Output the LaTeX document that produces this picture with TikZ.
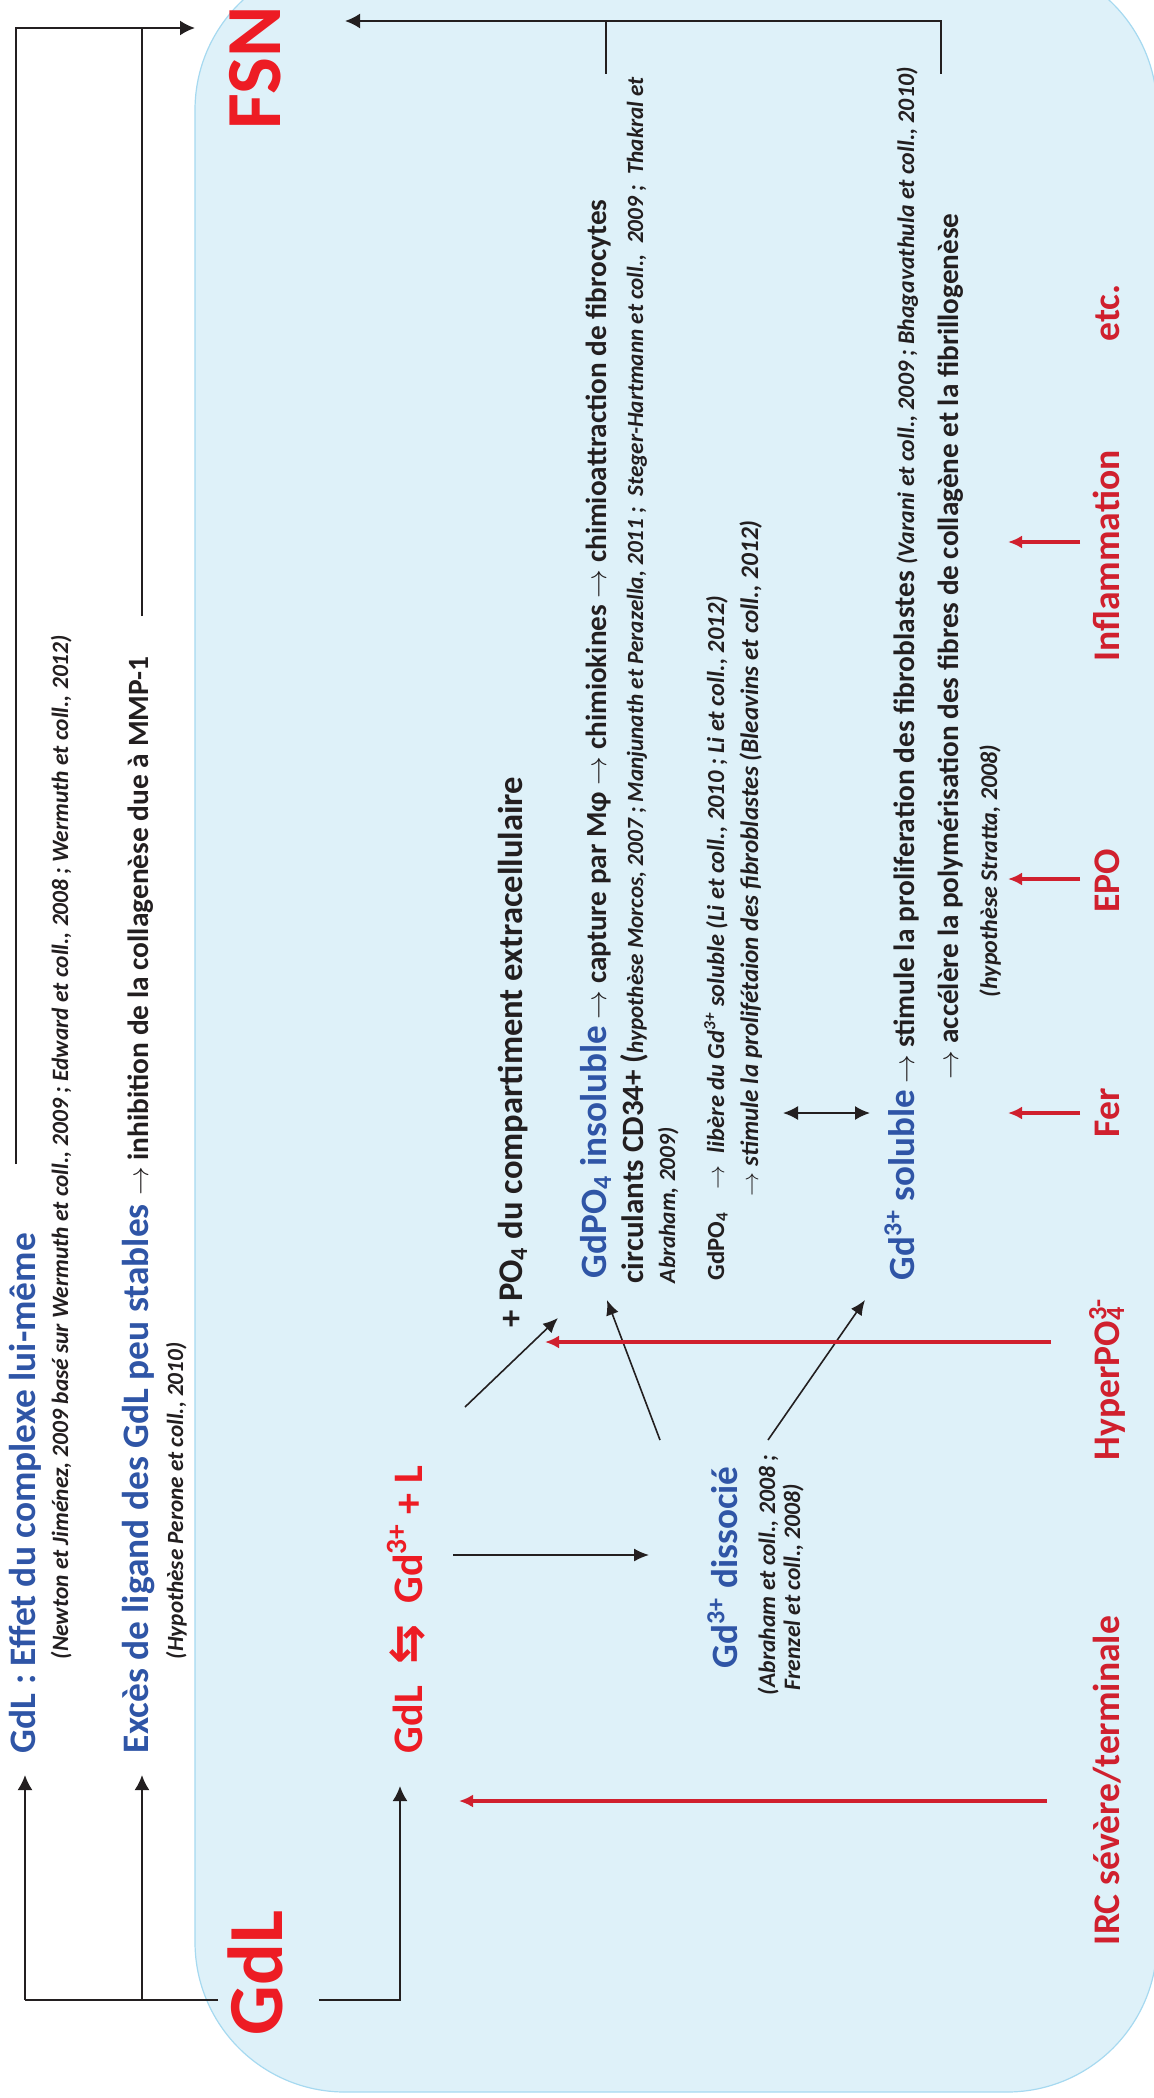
\documentclass[tikz,border=0pt]{standalone}
\usepackage{fontspec}
\usepackage{amssymb}
\setmainfont{Carlito}
\newfontfamily\dvs{DejaVu Sans}
\usetikzlibrary{arrows.meta}
\definecolor{boxfill}{HTML}{DEF1F9}
\definecolor{boxline}{HTML}{A6D9F0}
\definecolor{gdblue}{HTML}{2F55A6}
\definecolor{gdred}{HTML}{ED1C24}
\definecolor{dred}{HTML}{D0202E}
\definecolor{lblack}{HTML}{231F20}
\newcommand\fs[1]{\fontsize{#1}{#1}\selectfont}
\newcommand\ra{$\rightarrow$}
\begin{document}
\begin{tikzpicture}[x=0.5pt,y=-0.5pt,
  txt/.style={rotate=90, anchor=base west, inner sep=0pt, outer sep=0pt, text=lblack},
  ctxt/.style={rotate=90, anchor=base, inner sep=0pt, outer sep=0pt},
  ln/.style={line width=1pt, draw=lblack},
  thin/.style={line width=0.8pt, draw=lblack, -{Latex[length=7.5pt,width=6.5pt]}},
  arr/.style={ln, -{Latex[length=7.5pt,width=7.5pt]}},
  redarr/.style={line width=2pt, draw=dred, -{Latex[length=7pt,width=6.5pt]}}]
\useasboundingbox (0,0) rectangle (1154,2098);
\clip (0,0) rectangle (1154,2098);
% background box
\draw[fill=boxfill, draw=boxline, line width=0.6pt, rounded corners=75pt] (195,-40) rectangle (1157,2092);

% left column texts
\node[txt, text=gdblue, font=\bfseries\fs{18.7}] (t1) at (35,1753) {GdL : Effet du complexe lui-même};
\node[txt, font=\bfseries\itshape\fs{11.7}] (r1) at (68,1659) {(Newton et Jiménez, 2009 basé sur Wermuth et coll., 2009 ; Edward et coll., 2008 ; Wermuth et coll., 2012)};
\node[txt, font=\bfseries\fs{18.7}] (t2) at (148,1753) {{\color{gdblue}Excès de ligand des GdL peu stables} {\fs{14.7}\ra\ inhibition de la collagenèse due à MMP-1}};
\node[txt, font=\bfseries\itshape\fs{11.6}] (r2) at (183,1659) {(Hypothèse Perone et coll., 2010)};

% big labels
\node[txt, text=gdred, font=\bfseries\fs{39}] (gdl) at (282,2035) {GdL};
\node[txt, text=gdred, font=\bfseries\fs{39}] (fsn) at (280,129) {FSN};

% equation
\node[txt, text=gdred, font=\bfseries\fs{21}] (eq) at (422,1753) {GdL\hspace{0.5em}{\dvs\bfseries\fs{24}⇆}\hspace{0.5em}Gd\textsuperscript{3+} + L};

% dissociated
\node[txt, text=gdblue, font=\bfseries\fs{18.6}] (diss) at (737,1668) {Gd\textsuperscript{3+} dissocié};
\node[txt, font=\bfseries\itshape\fs{11.8}] (r3a) at (775,1695) {(Abraham et coll., 2008 ;};
\node[txt, font=\bfseries\itshape\fs{11.8}] (r3b) at (800,1690) {Frenzel et coll., 2008)};

% PO4 column
\node[txt, font=\bfseries\fs{17.3}] (po4) at (522,1327) {+ PO\textsubscript{4} du compartiment extracellulaire};
\node[txt, font=\bfseries\fs{14.6}] (ins) at (606,1278) {{\color{gdblue}\fs{18.6}GdPO\textsubscript{4} insoluble} \ra\ capture par Mφ \ra\ chimiokines \ra\ chimioattraction de fibrocytes};
\node[txt, font=\bfseries\fs{15.5}] (circ) at (643,1283) {circulants CD34+ ({\itshape\fs{11.6}hypothèse Morcos, 2007 ; Manjunath et Perazella, 2011 ;\ \ Steger-Hartmann et coll.,\ \ 2009 ;\ \ Thakral et}};
\node[txt, font=\bfseries\itshape\fs{11.6}] (abr) at (675,1283) {Abraham, 2009)};
\node[txt, font=\bfseries\fs{12.3}] (lib) at (724,1280) {GdPO\textsubscript{4}\hspace{0.9em}\ra\hspace{0.5em}{\itshape\fs{12.2}libère du Gd\textsuperscript{3+}\ soluble (Li et coll., 2010 ; Li et coll., 2012)}};
\node[txt, font=\bfseries\itshape\fs{12.6}] (stim) at (758,1196) {\ra\ stimule la prolifétaion des fibroblastes (Bleavins et coll., 2012)};

% soluble column
\node[txt, font=\bfseries\fs{14.7}] (sol) at (914,1280) {{\color{gdblue}\fs{18.5}Gd\textsuperscript{3+} soluble} \ra\ stimule la proliferation des fibroblastes {\itshape\fs{11.9}(Varani et coll., 2009 ; Bhagavathula et coll., 2010)}};
\node[txt, font=\bfseries\fs{14.6}] (acc) at (958,1079) {\ra\ accélère la polymérisation des fibres de collagène et la fibrillogenèse};
\node[txt, font=\bfseries\itshape\fs{12}] (strat) at (997,997) {(hypothèse Stratta, 2008)};

% red factors
\node[txt, text=dred, font=\bfseries\fs{18.8}] (irc) at (1119,1945) {IRC sévère/terminale};
\node[txt, text=dred, font=\bfseries\fs{18.8}] (hyp) at (1119,1460) {HyperPO\rlap{\textsubscript{4}}\textsuperscript{3-}};
\node[ctxt, text=dred, font=\bfseries\fs{18.8}] (fer) at (1119,1113) {Fer};
\node[ctxt, text=dred, font=\bfseries\fs{18.8}] (epo) at (1119,881) {EPO};
\node[ctxt, text=dred, font=\bfseries\fs{18.8}] (infl) at (1119,556) {Inflammation};
\node[ctxt, text=dred, font=\bfseries\fs{18.8}] (etc) at (1119,313) {etc.};

% coordinates for connectors
\coordinate (gdlW) at (218,2000);
\coordinate (gdlE) at (319,2000);
\coordinate (L0) at (25,2000);
\coordinate (L1) at (142,2000);
\coordinate (t1in) at (25,1775);
\coordinate (t2in) at (142,1775);
\coordinate (t1out) at (16,1164);
\coordinate (t2out) at (142,616);
\coordinate (j2) at (142,28);
\coordinate (fsnW) at (195,28);
\coordinate (fsnE) at (345,21);
\coordinate (insout) at (606,74);
\coordinate (insj) at (606,21);
\coordinate (solout) at (941,74);
\coordinate (eqin) at (400,1786);
\coordinate (eqA) at (453,1555);
\coordinate (dissin) at (649,1555);
\coordinate (eqB) at (465,1407);
\coordinate (po4in) at (558,1318);
\coordinate (dissA) at (660,1440);
\coordinate (insin) at (607,1300);
\coordinate (dissB) at (768,1440);
\coordinate (solin) at (865,1300);
\coordinate (dA) at (783,1113);
\coordinate (dB) at (870,1113);
\coordinate (ircA) at (1047,1801);
\coordinate (ircB) at (459,1801);
\coordinate (hypA) at (1051,1342);
\coordinate (hypB) at (545,1342);
\coordinate (ferA) at (1080,1113);
\coordinate (ferB) at (1008,1113);
\coordinate (epoA) at (1080,879);
\coordinate (epoB) at (1008,879);
\coordinate (inflA) at (1080,542);
\coordinate (inflB) at (1008,542);

% left connectors
\draw[ln] (gdlW) -- (L0);
\draw[arr] (L0) -- (t1in);
\draw[arr] (L1) -- (t2in);
\draw[arr] (t1out) |- (fsnW);
\draw[ln] (t2out) -- (j2);
% right top connectors
\draw[arr] (solout) |- (fsnE);
\draw[ln] (insout) -- (insj);
% GdL to equation
\draw[arr] (gdlE) -| (eqin);
% black arrows
\draw[thin] (eqA) -- (dissin);
\draw[thin] (eqB) -- (po4in);
\draw[thin] (dissA) -- (insin);
\draw[thin] (dissB) -- (solin);
\draw[line width=0.9pt, draw=lblack, {Latex[length=7.5pt,width=7pt]}-{Latex[length=7.5pt,width=7pt]}] (dA) -- (dB);
% red arrows
\draw[redarr] (ircA) -- (ircB);
\draw[redarr] (hypA) -- (hypB);
\draw[redarr] (ferA) -- (ferB);
\draw[redarr] (epoA) -- (epoB);
\draw[redarr] (inflA) -- (inflB);
\end{tikzpicture}
\end{document}
